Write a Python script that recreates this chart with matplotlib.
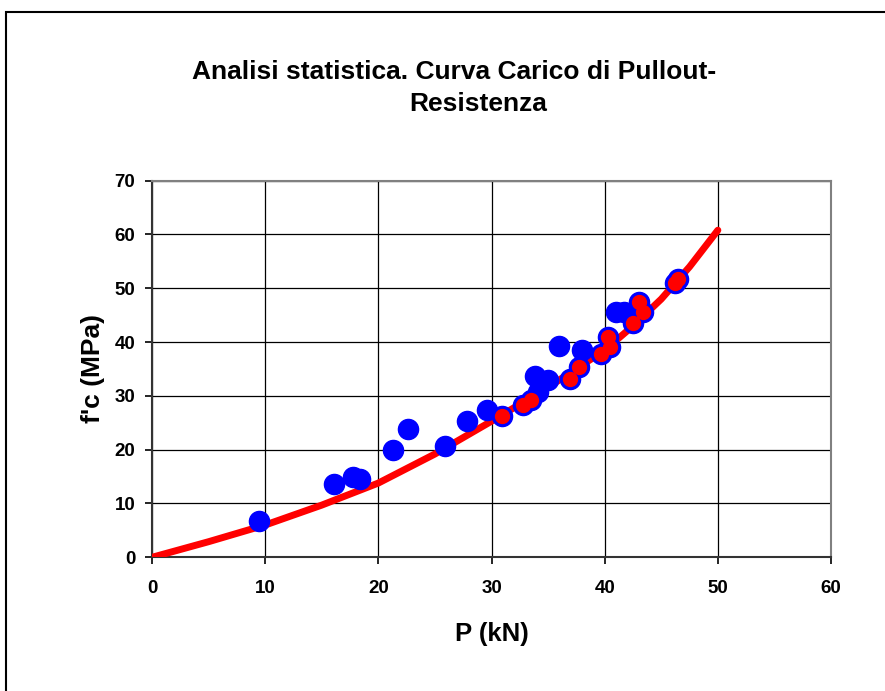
import matplotlib
matplotlib.use("Agg")
import matplotlib.pyplot as plt
from matplotlib.patches import Rectangle

plt.rcParams['font.family'] = ['Liberation Sans', 'DejaVu Sans']

# ---------------------- dati ----------------------
# punti sperimentali (blu)
p_obs = [9.45, 16.1, 17.8, 18.4, 21.3, 22.6, 25.9, 27.8, 29.6,
         30.9, 32.8, 33.5, 33.8, 34.1, 35.0, 36.0, 36.9, 37.7, 38.0,
         39.7, 40.3, 40.5, 41.0, 41.7, 42.5, 43.0, 43.4, 46.2, 46.5]
fc_obs = [6.8, 13.6, 15.0, 14.5, 19.9, 23.8, 20.7, 25.3, 27.4,
          26.3, 28.3, 29.2, 33.7, 30.8, 33.0, 39.3, 33.2, 35.4, 38.5,
          37.8, 41.0, 39.1, 45.6, 45.6, 43.6, 47.5, 45.6, 51.0, 51.7]

# punti di controllo (rossi)
p_ctrl = [30.9, 32.8, 33.5, 36.9, 37.7, 39.7, 40.3, 40.5, 42.5, 43.0, 43.4, 46.2, 46.5]
fc_ctrl = [26.3, 28.3, 29.2, 33.2, 35.4, 37.8, 41.0, 39.1, 43.6, 47.5, 45.6, 51.0, 51.7]

# curva di regressione
p_curve = [0, 5, 10, 15, 20, 25, 30, 35, 40, 42.5, 45, 47.5, 50]
fc_curve = [0, 2.9, 6.0, 9.7, 13.8, 19.2, 25.3, 31.6, 38.5, 43.0, 48.0, 54.0, 60.8]

x_ticks = [0, 10, 20, 30, 40, 50, 60]
y_ticks = [0, 10, 20, 30, 40, 50, 60, 70]

# ---------------------- grafico ----------------------
fig = plt.figure(figsize=(8.85, 6.91), dpi=100)
ax = fig.add_axes([0.1718, 0.1935, 0.7672, 0.545])

# cornice dell'area grafico (tagliata a destra e in basso)
fig.patches.append(Rectangle((6 / 885, -0.2), 2.0, 0.2 + (691 - 12) / 691,
                             transform=fig.transFigure, fill=False,
                             edgecolor="black", linewidth=1.5))

ax.plot(p_curve, fc_curve, color="red", linewidth=5, solid_capstyle="round", zorder=3)
ax.plot(p_obs, fc_obs, linestyle="none", marker="o", markersize=14.5,
        markerfacecolor="blue", markeredgecolor="blue", zorder=4)
ax.plot(p_ctrl, fc_ctrl, linestyle="none", marker="o", markersize=10,
        markerfacecolor="red", markeredgecolor="red", zorder=5)

ax.set_xlim(0, 60)
ax.set_ylim(0, 70)
ax.set_xticks(x_ticks)
ax.set_yticks(y_ticks)
ax.grid(True, color="black", linewidth=0.9)
ax.set_axisbelow(True)

for side in ["top", "right"]:
    ax.spines[side].set_color("#808080")
    ax.spines[side].set_linewidth(1.5)
for side in ["left", "bottom"]:
    ax.spines[side].set_color("#333333")
    ax.spines[side].set_linewidth(1.5)

ax.tick_params(direction="out", length=5, width=1.2)
ax.tick_params(axis="x", pad=11)
ax.tick_params(axis="y", pad=7)
for lab in ax.get_xticklabels() + ax.get_yticklabels():
    lab.set_fontsize(13.5)
    lab.set_fontweight("bold")

ax.set_xlabel("P (kN)", fontsize=18.5, fontweight="bold", labelpad=18)
ax.set_ylabel("f'c (MPa)", fontsize=19, fontweight="bold", labelpad=7)

fig.text(454 / 885, 1 - 72 / 691, "Analisi statistica. Curva Carico di Pullout-",
         ha="center", va="center", fontsize=19, fontweight="bold")
fig.text(478 / 885, 1 - 104 / 691, "Resistenza",
         ha="center", va="center", fontsize=19, fontweight="bold")

fig.savefig("out.png", dpi=100)
